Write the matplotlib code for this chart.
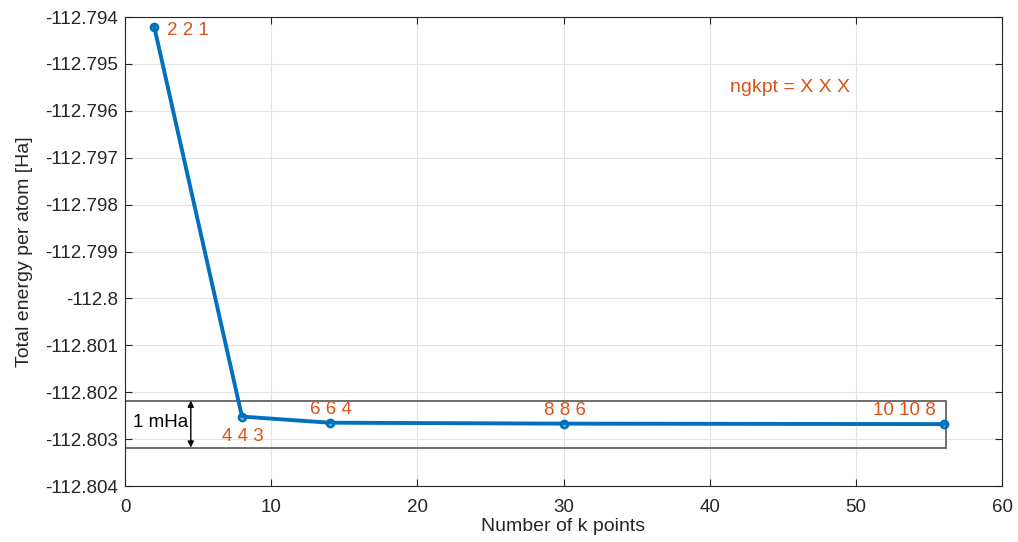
import matplotlib
matplotlib.use("Agg")
import matplotlib.pyplot as plt

plt.rcParams['font.family'] = ['Liberation Sans', 'DejaVu Sans']

nk = [2, 8, 14, 30, 56]
energy = [-112.79421, -112.80252, -112.80265, -112.80267, -112.80268]
grid_labels = ["2 2 1", "4 4 3", "6 6 4", "8 8 6", "10 10 8"]
xticks = [0, 10, 20, 30, 40, 50, 60]
yticks = [-112.804, -112.803, -112.802, -112.801, -112.8, -112.799, -112.798,
          -112.797, -112.796, -112.795, -112.794]
ytick_labels = ["-112.804", "-112.803", "-112.802", "-112.801", "-112.8", "-112.799",
                "-112.798", "-112.797", "-112.796", "-112.795", "-112.794"]

blue = '#0072BD'
orange = '#D95319'
dark = '#262626'

fig = plt.figure(figsize=(10.18, 5.42), dpi=100)
ax = fig.add_axes([0.1228, 0.1033, 0.8615, 0.8653])

ax.plot(nk, energy, color=blue, lw=2.8, marker='o', ms=5, mfc='none', mew=2, zorder=3)

ax.set_xlim(0, 60)
ax.set_ylim(-112.804, -112.794)
ax.set_xticks(xticks)
ax.set_yticks(yticks)
ax.set_yticklabels(ytick_labels)
ax.grid(True, color='#e3e3e3', lw=0.8)
ax.set_axisbelow(True)
ax.tick_params(direction='in', labelsize=13.5, length=5, color=dark, labelcolor=dark, pad=5)
ax.tick_params(axis='x', pad=9)
for s in ax.spines.values():
    s.set_color(dark)
    s.set_linewidth(0.8)
ax.tick_params(top=True, right=True)

ax.set_xlabel("Number of k points", fontsize=14, color=dark, labelpad=2)
ax.set_ylabel("Total energy per atom [Ha]", fontsize=14, color=dark, labelpad=9)

# 1 mHa box around converged value
ref = energy[-1]
ax.add_patch(plt.Rectangle((0, ref - 0.0005), 56.2, 0.001, fill=False,
                           edgecolor='#6e6e6e', lw=1.4, zorder=2))
ax.annotate('', xy=(4.5, ref - 0.0005), xytext=(4.5, ref + 0.0005),
            arrowprops=dict(arrowstyle='<|-|>', color='black', lw=1, mutation_scale=9,
                            shrinkA=0, shrinkB=0))
ax.text(0.55, ref + 0.00003, "1 mHa", fontsize=13.5, va='center', ha='left', color='black')

fs = 13.5
ax.text(nk[0] + 0.9, energy[0] - 0.00007, grid_labels[0], color=orange, fontsize=fs, va='center', ha='left')
ax.text(nk[1] + 0.05, energy[1] - 0.00024, grid_labels[1], color=orange, fontsize=fs, va='top', ha='center')
ax.text(nk[2] + 0.1, energy[2] + 0.0001, grid_labels[2], color=orange, fontsize=fs, va='bottom', ha='center')
ax.text(nk[3] + 0.1, energy[3] + 0.0001, grid_labels[3], color=orange, fontsize=fs, va='bottom', ha='center')
ax.text(nk[4] - 0.5, energy[4] + 0.0001, grid_labels[4], color=orange, fontsize=fs, va='bottom', ha='right')
ax.text(41.4, -112.7955, "ngkpt = X X X", color=orange, fontsize=14, va='center', ha='left')

fig.savefig("out.png", dpi=100)
